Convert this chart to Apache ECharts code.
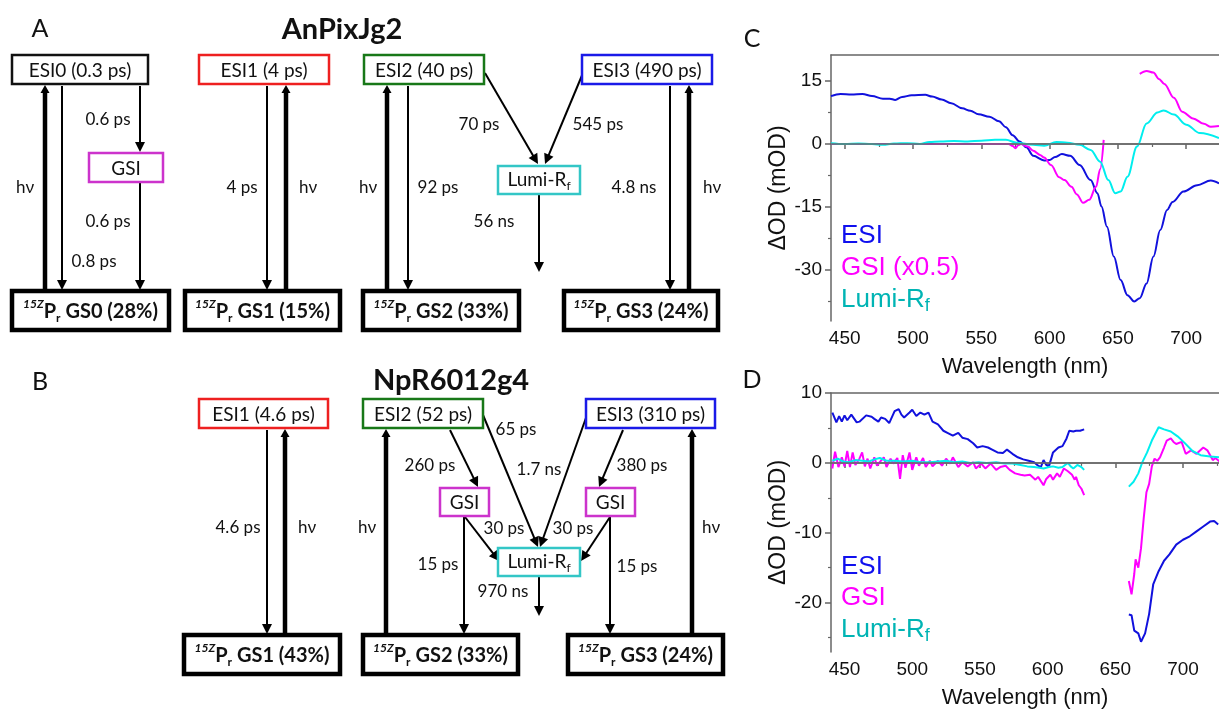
<!DOCTYPE html>
<html>
<head>
<meta charset="utf-8">
<script src="https://cdn.jsdelivr.net/npm/echarts@6/dist/echarts.min.js"></script>
<style>
  html, body { margin: 0; padding: 0; background: #fff; }
  #main { width: 1219px; height: 710px; }
</style>
</head>
<body>
<div id="main"></div>
<script>
// ---- spectra, panel C (AnPixJg2), [wavelength nm, dOD mOD] ----
const cEsi = [[440,11.4],[447,11.9],[455,11.8],[463,11.9],[470,11.4],[478,10.8],[483,10.8],[487,10.5],[492,11.2],[499,11.6],[509,11.7],[514,11.3],[521,10.6],[528,9.7],[536,8.5],[542,7.9],[548,7.1],[556,6.5],[563,5.4],[568,4],[573,2.1],[578,0.6],[583,-0.8],[588,-2.8],[596,-3.9],[600,-3.8],[604,-3.1],[609,-2.4],[615,-2.8],[622,-5],[630,-8.6],[635,-11.7],[638,-14.9],[642,-19.7],[647,-26.8],[652,-32.4],[657,-36],[662,-37.5],[666,-36.7],[671,-33.2],[676,-26.8],[681,-20.5],[686,-15.7],[690,-13.8],[698,-11.3],[708,-9.8],[718,-8.7],[724,-9.4]]
const cGsi = [[440,0],[570,0],[573,-0.5],[575,-1],[577,-0.3],[579,0],[584,-0.6],[588,-1.6],[593,-2.6],[596,-3.2],[601,-5],[607,-7.9],[611,-8.6],[616,-10.2],[620,-12],[624.5,-14],[629,-13.3],[634,-10.2],[637,-6],[639.6,1],[650,null],[666,16.7],[671,17.4],[676,17],[680,15.5],[684,14.3],[691,11],[697,7.7],[705,6.1],[713,4.8],[718,4.1],[724,4.3]]
const cLumi = [[440,0.2],[450,0],[460,0.1],[470,0],[478,-0.2],[486,0.1],[496,0.2],[505,0],[512,0.5],[520,0.6],[530,0.7],[540,0.6],[550,0.8],[560,1],[568,1],[576,0.3],[588,-0.2],[596,-0.4],[605,0.5],[613,0.3],[622,-0.2],[630,-1.4],[637,-4.2],[643,-8.6],[648,-11.7],[652,-11.3],[657,-7.8],[664,-0.6],[671,4.9],[679,7.5],[683.5,8],[691,7],[700,4.6],[710,2.6],[724,1.4]]

// ---- spectra, panel D (NpR6012g4) ----
const dEsi = [[441,7.2],[444,5.8],[446,6.7],[448,5.9],[450,6.8],[452,6.1],[455,6.9],[459,5.8],[461,5.9],[466,6.8],[470,6.6],[472,6.3],[475,5.9],[477,6.5],[480,6.3],[483,5.7],[487,7.4],[490,7.7],[492,6.9],[494,6.5],[498,7.2],[500,7.6],[503,6.7],[506,7.2],[509,6.9],[512,7.2],[515,5.9],[519,5.5],[523,4.6],[526,4.3],[530,3.9],[534,4.3],[537,3.6],[541,3.4],[545,2.8],[548,2.2],[552,2.4],[556,2.2],[559,1.9],[563,1.5],[567,1.4],[570,1.9],[574,1.3],[578,0.8],[582,0.5],[586,0.3],[590,0.1],[593,-0.4],[595,-0.6],[597,0.4],[599,-0.3],[601,-0.5],[604,1.5],[608,2.2],[611,2.4],[614,3.5],[616,4.6],[619,4.5],[621,4.6],[624,4.6],[627,4.8],
  [643,null],
  [660,-21.7],[662,-21.8],[664,-24],[667,-24.4],[669,-25.6],[672,-24.4],[675,-21.6],[678,-17.4],[682,-15.5],[686,-14],[690,-13.1],[695,-11.7],[700,-11],[705,-10.5],[710,-9.8],[715,-9.1],[720,-8.4],[723,-8.3],[726,-8.8]]
const dGsi = [[441,-0.8],[443,1.6],[445.5,-0.6],[448,0.8],[450,-0.5],[452,1.7],[454,-0.6],[456,1.5],[458,-0.3],[461,0.6],[463,1.5],[465,-0.5],[467,0.6],[469,-0.8],[472,0.8],[474,-0.4],[476,0.1],[479,0.8],[481,-0.6],[484,0.6],[486,-0.1],[489,0.7],[491,-2.3],[493,1.1],[495,-0.7],[498,1.5],[500,-1],[503,0.8],[505,-0.4],[508,0.7],[510,-0.6],[513,0.3],[515,-0.5],[519,0.3],[522,-0.4],[525,0.6],[528,-0.1],[530,0.8],[534,-0.6],[537,0.1],[541,-0.5],[545,0.1],[547,-0.8],[551,-0.1],[554,-0.8],[558,-0.1],[562,-1],[565,-0.6],[569,-0.4],[572,-1],[576,-1.5],[580,-1.7],[583,-1.8],[587,-1.7],[591,-2.4],[593,-2],[597,-3.2],[599,-2.3],[602,-1.7],[604,-2.4],[607,-1.5],[609,-2],[612,-0.8],[615,-1.2],[618,-1.7],[620,-2.4],[621,-2],[623,-3.2],[625,-3.7],[627,-4.6],
  [643,null],
  [660,-16.9],[662,-18.8],[664,-15.9],[665,-13.8],[667,-15],[669,-12.2],[671,-7.9],[673,-4.2],[675,-3],[677,-0.5],[679,0.6],[681,0.3],[683,0.8],[686,2.2],[688,3.2],[691,3.5],[693,3],[695,2.7],[699,3],[702,1.3],[706,1.8],[710,1.3],[715,2.2],[718,1.8],[722,0.4],[724,0.7],[727,0.2]]
const dLumi = [[441,0.3],[445,0.6],[449,0.2],[453,0.1],[458,0.4],[463,0.3],[468,0.2],[472,0.5],[476,0.7],[481,0.3],[487,0.3],[493,0.2],[500,0.3],[506,0.1],[513,0.1],[519,0.2],[525,0.3],[531,0.1],[537,0.2],[543,0],[549,0.1],[555,0],[562,0.1],[568,-0.1],[574,-0.1],[580,-0.3],[585,-0.5],[590,-0.6],[594,-0.7],[597,-0.8],[601,-0.6],[604,-0.5],[608,-0.7],[611,-0.6],[615,0],[617,-0.5],[619,-0.8],[622,-0.3],[625,-0.6],[627,-1],
  [643,null],
  [660,-3.4],[663.5,-2.7],[667,-1.5],[670,0.1],[673.5,1.5],[677,3.2],[682,5.1],[686,4.8],[691,4.5],[696,3.8],[701,2.9],[707,1.7],[713,1.1],[720,0.9],[727,0.8]]

// axis ticks
const xTicks = [450, 500, 550, 600, 650, 700]
const xMinor = [475, 525, 575, 625, 675, 725]
const cYTicks = [-30, -15, 0, 15]
const cYMinor = [-37.5, -22.5, -7.5, 7.5]
const dYTicks = [-20, -10, 0, 10]
const dYMinor = [-25, -15, -5, 5]

// ---- kinetic schemes: boxes [x, y, w, h, label, colour, kind] ----
const boxesA = [
  [12, 55, 136, 29, 'ESI0 (0.3 ps)', '#111', 'es'],
  [89, 153, 74, 29, 'GSI', '#cc33cc', 'es'],
  [199, 55, 130, 29, 'ESI1 (4 ps)', '#ee2020', 'es'],
  [364, 55, 120, 29, 'ESI2 (40 ps)', '#187818', 'es'],
  [582, 55, 130, 29, 'ESI3 (490 ps)', '#1a1ae8', 'es'],
  [498, 166, 82, 28, 'Lumi-R|f', '#33c6c6', 'es'],
  [12, 291, 157, 39, 'GS0 (28%)', '#000', 'gs'],
  [185, 291, 155, 39, 'GS1 (15%)', '#000', 'gs'],
  [363, 291, 156, 39, 'GS2 (33%)', '#000', 'gs'],
  [564, 291, 154, 39, 'GS3 (24%)', '#000', 'gs']
]
const boxesB = [
  [199, 399, 129, 29, 'ESI1 (4.6 ps)', '#ee2020', 'es'],
  [363, 399, 120, 29, 'ESI2 (52 ps)', '#187818', 'es'],
  [586, 399, 129, 29, 'ESI3 (310 ps)', '#1a1ae8', 'es'],
  [440, 488, 49, 28, 'GSI', '#cc33cc', 'es'],
  [586, 488, 49, 28, 'GSI', '#cc33cc', 'es'],
  [498, 548, 82, 28, 'Lumi-R|f', '#33c6c6', 'es'],
  [184, 635, 156, 39, 'GS1 (43%)', '#000', 'gs'],
  [363, 635, 155, 39, 'GS2 (33%)', '#000', 'gs'],
  [568, 635, 155, 39, 'GS3 (24%)', '#000', 'gs']
]
// arrows [x1, y1, x2, y2, thick]
const arrowsA = [
  [45, 291, 45, 85, 1], [62, 86, 62, 290, 0], [140, 86, 140, 152, 0], [140, 183, 140, 290, 0],
  [267, 86, 267, 290, 0], [286, 291, 286, 85, 1],
  [387, 291, 387, 85, 1], [408, 86, 408, 290, 0],
  [485, 73, 538, 164, 0], [583, 73, 545, 164, 0], [539, 195, 539, 272, 0],
  [670, 86, 670, 290, 0], [689, 291, 689, 85, 1]
]
const arrowsB = [
  [267, 430, 267, 634, 0], [285, 635, 285, 429, 1], [386, 635, 386, 429, 1],
  [450, 430, 478, 487, 0], [483, 415, 538, 547, 0], [587, 415, 540, 547, 0], [623, 430, 599, 487, 0],
  [464, 517, 464, 634, 0], [465, 517, 499, 561, 0], [610, 517, 581, 561, 0], [610, 517, 610, 634, 0],
  [539, 577, 539, 616, 0], [692, 635, 692, 429, 1]
]
// rate labels [cx, cy, text]
const ratesA = [
  [25, 188, 'hν'], [108, 120, '0.6 ps'], [108, 222, '0.6 ps'], [94, 262, '0.8 ps'],
  [242, 188, '4 ps'], [308, 188, 'hν'], [368, 188, 'hν'], [438, 188, '92 ps'],
  [479, 125, '70 ps'], [598, 125, '545 ps'], [494, 222, '56 ns'], [634, 188, '4.8 ns'], [712, 188, 'hν']
]
const ratesB = [
  [238, 528, '4.6 ps'], [307, 528, 'hν'], [367, 528, 'hν'], [430, 466, '260 ps'],
  [516, 430, '65 ps'], [539, 470, '1.7 ns'], [642, 466, '380 ps'], [504, 529, '30 ps'],
  [573, 529, '30 ps'], [438, 565, '15 ps'], [637, 567, '15 ps'], [503, 592, '970 ns'], [711, 528, 'hν']
]

const SF = 'Lato, "Noto Sans", sans-serif'
const PF = '"Liberation Sans", Arial, sans-serif'
const colEsi = '#1111dd', colGsi = '#ff00ff', colLumi = '#00eeee'

const chart = echarts.init(document.getElementById('main'))

const graphic = []
const txt = (x, y, text, extra) => graphic.push({
  type: 'text', x: x, y: y, silent: true,
  style: Object.assign({ text: text, fill: '#111', fontFamily: SF, fontSize: 17,
    align: 'center', verticalAlign: 'middle', textAlign: 'center', textVerticalAlign: 'middle' }, extra || {})
})

function drawBox(b) {
  const [x, y, w, h, label, color, kind] = b
  const lw = kind === 'gs' ? 4.5 : 2.5
  graphic.push({ type: 'rect', silent: true, shape: { x: x, y: y, width: w, height: h },
    style: { fill: '#fff', stroke: color, lineWidth: lw } })
  if (kind === 'gs') {
    txt(x + w / 2, y + h / 2 + 1, '{sup|15Z}{b|P}{sub|r}{b| ' + label + '}', {
      rich: {
        b: { fontFamily: SF, fontSize: 20, fontWeight: 'bold', fill: '#111', lineHeight: 26, verticalAlign: 'middle' },
        sup: { fontFamily: SF, fontSize: 12, fontWeight: 'bold', fontStyle: 'italic', fill: '#111', lineHeight: 14, verticalAlign: 'top' },
        sub: { fontFamily: SF, fontSize: 12, fontWeight: 'bold', fill: '#111', lineHeight: 12, verticalAlign: 'bottom' }
      }
    })
  } else if (label.indexOf('|') > 0) {
    const p = label.split('|')
    txt(x + w / 2, y + h / 2, '{n|' + p[0] + '}{s|' + p[1] + '}', {
      rich: {
        n: { fontFamily: SF, fontSize: 19, fill: '#111', lineHeight: 24, verticalAlign: 'middle' },
        s: { fontFamily: SF, fontSize: 12, fill: '#111', lineHeight: 12, verticalAlign: 'bottom' }
      }
    })
  } else {
    txt(x + w / 2, y + h / 2 + 1, label, { fontSize: 19 })
  }
}

function drawArrow(a) {
  const [x1, y1, x2, y2, thick] = a
  const lw = thick ? 4.5 : 2, hl = thick ? 8 : 10, hw = thick ? 4.5 : 5
  const L = Math.hypot(x2 - x1, y2 - y1), ux = (x2 - x1) / L, uy = (y2 - y1) / L
  const bx = x2 - ux * hl, by = y2 - uy * hl
  graphic.push({ type: 'line', silent: true, shape: { x1: x1, y1: y1, x2: bx + ux, y2: by + uy },
    style: { stroke: '#000', lineWidth: lw } })
  graphic.push({ type: 'polygon', silent: true,
    shape: { points: [[x2, y2], [bx - uy * hw, by + ux * hw], [bx + uy * hw, by - ux * hw]] },
    style: { fill: '#000' } })
}

arrowsA.concat(arrowsB).forEach(drawArrow)
boxesA.concat(boxesB).forEach(drawBox)
ratesA.concat(ratesB).forEach(r => txt(r[0], r[1], r[2]))

// panel letters and titles
txt(40, 29, 'A', { fontSize: 25 })
txt(40, 382, 'B', { fontSize: 25 })
txt(752, 39, 'C', { fontSize: 25 })
txt(752, 380, 'D', { fontSize: 25 })
txt(342, 30, 'AnPixJg2', { fontSize: 29, fontWeight: 'bold' })
txt(451, 381, 'NpR6012g4', { fontSize: 29, fontWeight: 'bold' })

// legend texts inside the plots
const legRich = {
  n: { fontFamily: PF, fontSize: 26, fill: '#00b4b4', lineHeight: 30, verticalAlign: 'middle' },
  s: { fontFamily: PF, fontSize: 18, fill: '#00b4b4', lineHeight: 20, verticalAlign: 'bottom' }
}
const leg = (y, text, color) => txt(841, y, text, { fontFamily: PF, fontSize: 26, fill: color, align: 'left', textAlign: 'left' })
leg(236, 'ESI', '#1010ee'); leg(268, 'GSI (x0.5)', '#ff00ff')
txt(841, 300, '{n|Lumi-R}{s|f}', { align: 'left', textAlign: 'left', rich: legRich })
leg(567, 'ESI', '#1010ee'); leg(598, 'GSI', '#ff00ff')
txt(841, 630, '{n|Lumi-R}{s|f}', { align: 'left', textAlign: 'left', rich: legRich })

const axisCol = '#666'
function xAxes(grid, max) {
  return [
    { type: 'value', gridIndex: grid, position: 'bottom', min: 440, max: max,
      axisLine: { show: true, lineStyle: { color: axisCol, width: 1.5 } },
      axisTick: { show: true, customValues: xTicks, length: 5, lineStyle: { color: axisCol, width: 1.5 } },
      axisLabel: { customValues: xTicks, fontSize: 19, fontFamily: PF, color: '#111', margin: 8 },
      splitLine: { show: false },
      name: 'Wavelength (nm)', nameLocation: 'middle', nameGap: 35,
      nameTextStyle: { fontSize: 22, fontFamily: PF, color: '#111' } },
    { type: 'value', gridIndex: grid, position: 'bottom', min: 440, max: max,
      axisLine: { show: false },
      axisTick: { show: true, customValues: xMinor, length: 3, lineStyle: { color: axisCol, width: 1.2 } },
      axisLabel: { show: false }, splitLine: { show: false } },
    { type: 'value', gridIndex: grid, position: 'top', min: 440, max: max,
      axisLine: { show: true, lineStyle: { color: axisCol, width: 1.5 } },
      axisTick: { show: false }, axisLabel: { show: false }, splitLine: { show: false } }
  ]
}
function yAxes(grid, min, max, ticks, minor) {
  return [
    { type: 'value', gridIndex: grid, position: 'left', min: min, max: max,
      axisLine: { show: true, lineStyle: { color: axisCol, width: 1.5 } },
      axisTick: { show: true, customValues: ticks, length: 6, lineStyle: { color: axisCol, width: 1.5 } },
      axisLabel: { customValues: ticks, fontSize: 19, fontFamily: PF, color: '#111', margin: 9 },
      splitLine: { show: false },
      name: 'ΔOD (mOD)', nameLocation: 'middle', nameGap: 38, nameRotate: 90,
      nameTextStyle: { fontSize: 23, fontFamily: PF, color: '#111' } },
    { type: 'value', gridIndex: grid, position: 'left', min: min, max: max,
      axisLine: { show: false },
      axisTick: { show: true, customValues: minor, length: 3, lineStyle: { color: axisCol, width: 1.2 } },
      axisLabel: { show: false }, splitLine: { show: false } }
  ]
}

const zeroLine = {
  silent: true, symbol: 'none', label: { show: false },
  lineStyle: { color: '#6a6a6a', width: 1.5, type: 'solid' },
  data: [{ yAxis: 0 }]
}
function line(name, data, color, xi, yi, smooth, extra) {
  return Object.assign({
    name: name, type: 'line', data: data, xAxisIndex: xi, yAxisIndex: yi,
    showSymbol: false, symbol: 'none', smooth: smooth ? 0.35 : false, smoothMonotone: 'x',
    connectNulls: false, lineStyle: { color: color, width: 2 }, itemStyle: { color: color },
    animation: false
  }, extra || {})
}

chart.setOption({
  animation: false,
  backgroundColor: '#fff',
  grid: [
    { left: 831, top: 55, width: 388, height: 266 },
    { left: 831, top: 393, width: 388, height: 262 }
  ],
  xAxis: xAxes(0, 724).concat(xAxes(1, 726.6)),
  yAxis: yAxes(0, -42.14, 21.19, cYTicks, cYMinor).concat(yAxes(1, -27.06, 10, dYTicks, dYMinor)),
  series: [
    line('zeroC', [], '#6a6a6a', 0, 0, false, { markLine: zeroLine }),
    line('ESI', cEsi, colEsi, 0, 0, true),
    line('GSI (x0.5)', cGsi, colGsi, 0, 0, true),
    line('Lumi-Rf', cLumi, colLumi, 0, 0, true),
    line('zeroD', [], '#6a6a6a', 3, 2, false, { markLine: zeroLine }),
    line('ESI D', dEsi, colEsi, 3, 2, false),
    line('GSI D', dGsi, colGsi, 3, 2, false),
    line('Lumi-Rf D', dLumi, colLumi, 3, 2, false)
  ],
  graphic: graphic
})
</script>
</body>
</html>
